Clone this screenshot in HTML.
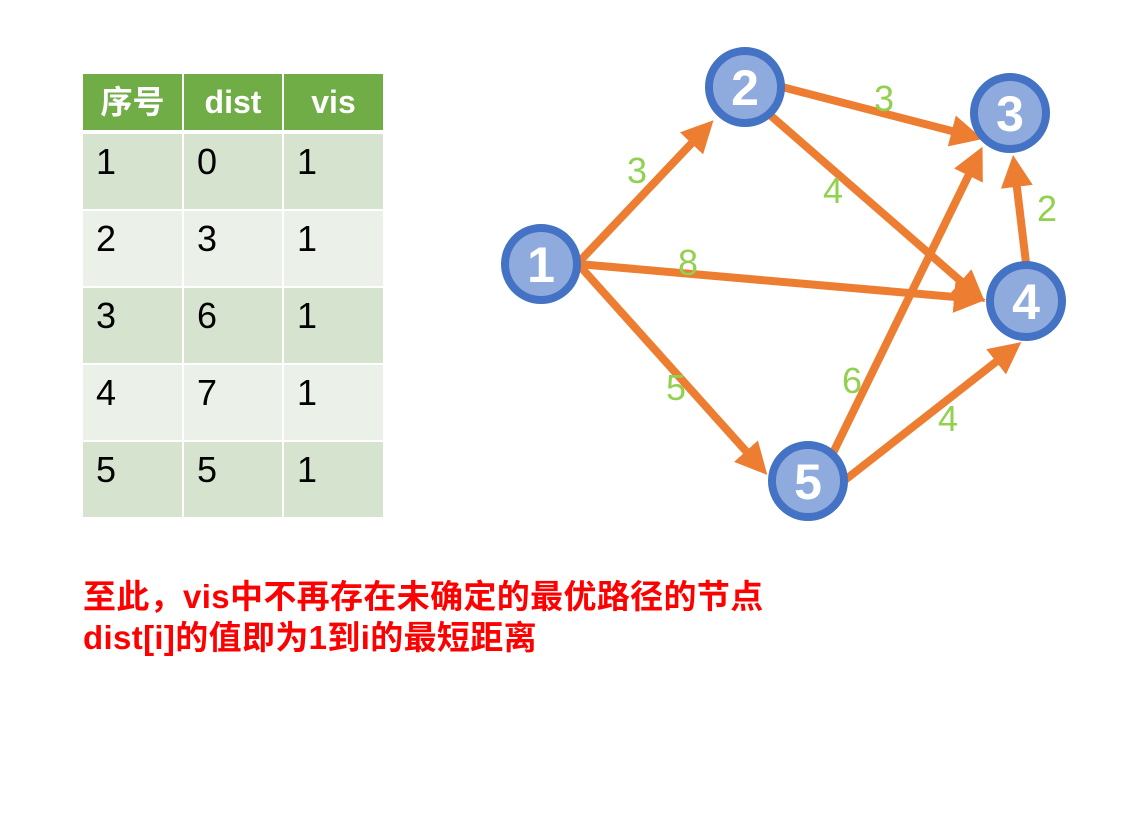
<!DOCTYPE html>
<html><head><meta charset="utf-8"><style>
body{margin:0;width:1125px;height:814px;background:#fff;position:relative;overflow:hidden;font-family:"Liberation Sans","Noto Sans CJK SC",sans-serif}
.c{position:absolute;font-size:36px;color:#000;padding-left:13px;box-sizing:border-box;line-height:56px}
.h{background:#70ad47;color:#fff;font-weight:bold;font-size:32px;text-align:center;padding:0;line-height:56px}
.r{position:absolute;left:83px;color:red;font-weight:bold;font-size:33px;letter-spacing:0.35px;white-space:nowrap}
</style></head><body>
<div id="t"></div>
<script>
var cols=[[83,99],[184,98],[284,99]],rows=[[74,56],[134,75],[211,75],[288,75],[365,75],[442,75]];
var d=[["序号","dist","vis"],["1","0","1"],["2","3","1"],["3","6","1"],["4","7","1"],["5","5","1"]];
var h="";
rows.forEach(function(r,i){cols.forEach(function(c,j){
var bg=i==0?"":(i%2?"background:#d6e3cf;":"background:#ebf0e8;");
h+='<div class="c'+(i==0?' h':'')+'" style="left:'+c[0]+'px;top:'+r[0]+'px;width:'+c[1]+'px;height:'+r[1]+'px;'+bg+'">'+d[i][j]+'</div>';});});
document.getElementById("t").innerHTML=h;
</script>
<svg width="1125" height="814" style="position:absolute;left:0;top:0">
<defs><marker id="a" markerWidth="4" markerHeight="4" refX="3" refY="2" orient="auto" markerUnits="strokeWidth"><path d="M0,0 L4,2 L0,4 Z" fill="#ed7d31"/></marker></defs>
<g stroke="#ed7d31" stroke-width="8" marker-end="url(#a)">
<line x1="578" y1="263" x2="708" y2="126"/>
<line x1="782" y1="87" x2="975" y2="137"/>
<line x1="770" y1="115" x2="979" y2="297"/>
<line x1="578" y1="264" x2="978" y2="299"/>
<line x1="578" y1="264" x2="762" y2="469"/>
<line x1="832" y1="455" x2="979" y2="154"/>
<line x1="1026" y1="263" x2="1014" y2="163"/>
<line x1="845" y1="480" x2="1015" y2="347"/>
</g>
<g fill="#8faadc" stroke="#4472c4" stroke-width="8">
<circle cx="541" cy="264" r="36"/><circle cx="745" cy="87" r="36"/><circle cx="1010" cy="113" r="36"/><circle cx="1026" cy="301" r="36"/><circle cx="808" cy="481" r="36"/>
</g>
<g fill="#fff" font-size="50" font-weight="bold" text-anchor="middle" font-family="Liberation Sans,sans-serif">
<text x="541" y="282">1</text><text x="745" y="105">2</text><text x="1010" y="131">3</text><text x="1026" y="319">4</text><text x="808" y="499">5</text>
</g>
<g fill="#92d050" font-size="36" text-anchor="middle" font-family="Liberation Sans,sans-serif">
<text x="637" y="183">3</text><text x="884" y="111">3</text><text x="833" y="203">4</text><text x="688" y="275">8</text><text x="1047" y="221">2</text><text x="676" y="400">5</text><text x="852" y="393">6</text><text x="948" y="431">4</text>
</g>
</svg>
<div class="r" style="top:570px">至此，vis中不再存在未确定的最优路径的节点</div>
<div class="r" style="top:611px">dist[i]的值即为1到i的最短距离</div>
</body></html>
